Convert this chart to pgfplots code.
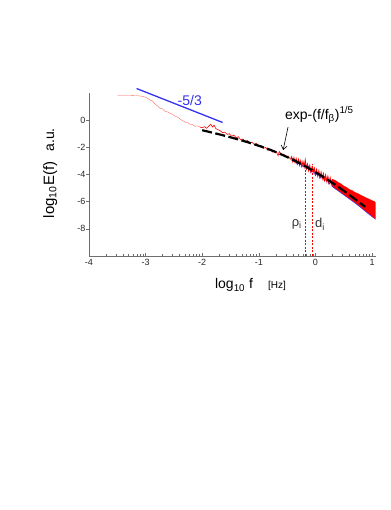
\documentclass[border=0pt]{standalone}
\usepackage{fontspec}
\setmainfont{Liberation Sans}
\usepackage{pgfplots}
\pgfplotsset{compat=1.18}
\usetikzlibrary{arrows.meta}
\definecolor{specred}{RGB}{255,0,0}
\definecolor{slopeblue}{RGB}{50,50,240}
\definecolor{axgray}{RGB}{110,110,110}

\begin{document}
\begin{tikzpicture}
\useasboundingbox (-89pt,-254pt) rectangle (301pt,256pt);
\begin{axis}[
    at={(0pt,0pt)}, anchor=south west,
    scale only axis, width=287pt, height=163pt,
    xmin=-4, xmax=1.07, ymin=-10, ymax=2,
    axis x line*=bottom, axis y line*=left,
    axis line style={axgray, line width=0.6pt},
    xtick={-4,...,1}, ytick={-8,-6,-4,-2,0},
    minor xtick={-3.699,-3.523,-3.398,-3.301,-3.222,-3.155,-3.097,-3.046,
                 -2.699,-2.523,-2.398,-2.301,-2.222,-2.155,-2.097,-2.046,
                 -1.699,-1.523,-1.398,-1.301,-1.222,-1.155,-1.097,-1.046,
                 -0.699,-0.523,-0.398,-0.301,-0.222,-0.155,-0.097,-0.046,
                 0.301,0.477,0.602,0.699,0.778,0.845,0.903,0.954},
    tick align=inside,
    major tick length=3pt, minor tick length=2pt,
    tick style={axgray, line width=0.5pt},
    ytick style={xshift=-3pt},
    tick label style={font=\fontsize{9}{10}\selectfont, text=black!85},
    /pgf/number format/assume math mode=true,
    clip=false,
]
% blue spectrum, mostly hidden under the red one
\addplot[slopeblue, line width=0.8pt] coordinates {
(-0.40,-3.05) (-0.36,-2.92) (-0.32,-3.25) (-0.28,-3.05) (-0.24,-3.42) (-0.20,-3.22)
(-0.16,-3.60) (-0.12,-3.40) (-0.08,-3.84) (-0.04,-3.60) (0.00,-4.06) (0.04,-3.85)
(0.08,-4.26) (0.12,-4.08) (0.16,-4.47) (0.20,-4.30) (0.24,-4.70) (0.28,-4.50) (0.30,-4.90)
};
\addplot[fill=slopeblue, draw=slopeblue, line width=0.2pt] coordinates {
(0.30,-4.40) (0.40,-4.63) (0.50,-4.90) (0.60,-5.15) (0.70,-5.37) (0.80,-5.57)
(0.90,-5.77) (1.00,-5.97) (1.06,-6.07) (1.06,-7.30) (1.00,-7.11) (0.90,-6.78)
(0.80,-6.44) (0.70,-6.11) (0.60,-5.81) (0.50,-5.51) (0.40,-5.21) (0.30,-4.91) (0.30,-4.40)
};
% red spectrum, low frequencies
\addplot[specred!65, line width=0.35pt] coordinates {
(-3.50,1.82) (-3.40,1.81) (-3.30,1.82) (-3.20,1.80) (-3.15,1.80) (-3.10,1.78)
(-3.04,1.74) (-3.00,1.68) (-2.96,1.60) (-2.92,1.47) (-2.88,1.42) (-2.83,1.18)
(-2.79,1.05) (-2.75,0.88) (-2.70,0.82) (-2.66,0.66) (-2.61,0.60) (-2.57,0.51)
(-2.52,0.42) (-2.48,0.29) (-2.43,0.22) (-2.39,0.07) (-2.35,-0.02) (-2.30,-0.15)
(-2.26,-0.18) (-2.22,-0.29) (-2.17,-0.33) (-2.13,-0.44) (-2.08,-0.43) (-2.04,-0.51)
};
% red spectrum, middle frequencies
\addplot[specred, line width=0.6pt] coordinates {
(-2.04,-0.51) (-2.00,-0.55) (-1.96,-0.48) (-1.92,-0.60) (-1.88,-0.42) (-1.85,-0.30)
(-1.82,-0.50) (-1.79,-0.38) (-1.76,-0.62) (-1.72,-0.70) (-1.68,-0.78) (-1.64,-0.92)
(-1.60,-0.88) (-1.56,-1.05) (-1.52,-1.00) (-1.48,-1.18) (-1.44,-1.10) (-1.40,-1.30)
(-1.36,-1.22) (-1.32,-1.45) (-1.28,-1.38) (-1.24,-1.58) (-1.20,-1.50) (-1.16,-1.68)
(-1.12,-1.62) (-1.08,-1.80) (-1.04,-1.72) (-1.00,-1.95) (-0.96,-1.86) (-0.92,-2.08)
(-0.88,-2.00) (-0.84,-2.22) (-0.80,-2.15) (-0.76,-2.35) (-0.72,-2.28) (-0.68,-2.40)
(-0.66,-2.62) (-0.64,-2.30) (-0.60,-2.55) (-0.56,-2.50) (-0.52,-2.72) (-0.48,-2.65)
(-0.44,-2.88)
};
\addplot[specred, line width=0.9pt] coordinates {
(-0.44,-2.88)
(-0.42,-2.70) (-0.40,-3.05) (-0.38,-2.78) (-0.36,-3.12) (-0.34,-2.85) (-0.32,-3.20)
(-0.30,-2.90) (-0.28,-3.30) (-0.26,-3.00) (-0.24,-3.38) (-0.22,-3.05) (-0.20,-3.45)
(-0.18,-2.95) (-0.16,-3.55) (-0.14,-3.25) (-0.12,-3.70) (-0.10,-3.35) (-0.08,-3.80)
(-0.06,-3.45) (-0.04,-3.85) (-0.02,-3.55) (0.00,-4.00) (0.02,-3.65) (0.04,-4.10)
(0.06,-3.75) (0.08,-4.20) (0.10,-3.85) (0.12,-4.30) (0.14,-3.95) (0.16,-4.40)
(0.18,-4.05) (0.20,-4.50) (0.22,-4.15) (0.24,-4.62) (0.26,-4.25) (0.28,-4.72)
(0.30,-4.35)
};
% red spectrum, high frequencies (dense band)
\addplot[fill=specred, draw=specred, line width=0.3pt] coordinates {
(0.30,-4.35) (0.36,-4.45) (0.40,-4.58) (0.45,-4.68) (0.50,-4.85) (0.55,-4.95)
(0.60,-5.10) (0.65,-5.18) (0.70,-5.32) (0.75,-5.40) (0.80,-5.52) (0.85,-5.62)
(0.90,-5.72) (0.95,-5.82) (1.00,-5.92) (1.05,-6.00)
(1.05,-7.23) (1.00,-7.05) (0.95,-6.88) (0.90,-6.72) (0.85,-6.55) (0.80,-6.38)
(0.75,-6.20) (0.70,-6.05) (0.65,-5.90) (0.60,-5.75) (0.55,-5.60) (0.50,-5.45)
(0.45,-5.30) (0.40,-5.15) (0.35,-5.00) (0.30,-4.85) (0.30,-4.35)
};
% stretched-exponential fit
\addplot[black, line width=2.2pt, dash pattern=on 10pt off 3.5pt, smooth] coordinates {
(-2.0,-0.74) (-1.6,-1.15) (-1.2,-1.62) (-0.8,-2.18) (-0.4,-2.91) (0.0,-3.83) (0.4,-4.90) (0.88,-6.38)
};
% -5/3 slope
\addplot[slopeblue, line width=1.3pt] coordinates {(-3.16,2.33) (-1.64,-0.17)};
% scales
\addplot[black!70, line width=0.4pt, dash pattern=on 2pt off 1.5pt] coordinates {(-0.184,-10) (-0.184,-3.45)};
\addplot[specred, line width=0.4pt, dash pattern=on 2pt off 1.5pt] coordinates {(-0.05,-10) (-0.05,-3.25)};

\node[slopeblue, font=\fontsize{14}{16}\selectfont] at (axis cs:-2.22,1.47) {-5/3};
\node[font=\fontsize{14}{16}\selectfont] at (axis cs:0.07,0.37) {exp-(f/f\textsubscript{β})\textsuperscript{1/5}};
\draw[-{Straight Barb[length=4pt,width=6pt]}, line width=0.6pt] (axis cs:-0.484,-0.51) -- (axis cs:-0.57,-2.2);
\node[black!80, font=\fontsize{13}{15}\selectfont] at (axis cs:-0.33,-7.65) {ρ\textsubscript{i}};
\node[black!80, font=\fontsize{13}{15}\selectfont] at (axis cs:0.08,-7.65) {d\textsubscript{i}};
\end{axis}
\node[rotate=90, anchor=base, font=\fontsize{15}{17}\selectfont] at (-35pt,66pt)
  {log\textsubscript{10}E(f)};
\node[rotate=90, anchor=base, font=\fontsize{14}{16}\selectfont] at (-35pt,116pt) {a.u.};
\node[anchor=base, font=\fontsize{14}{16}\selectfont] at (145pt,-33pt)
  {log\textsubscript{10} f};
\node[anchor=base, font=\fontsize{10}{11}\selectfont] at (188pt,-33pt) {[Hz]};
\end{tikzpicture}
\end{document}
